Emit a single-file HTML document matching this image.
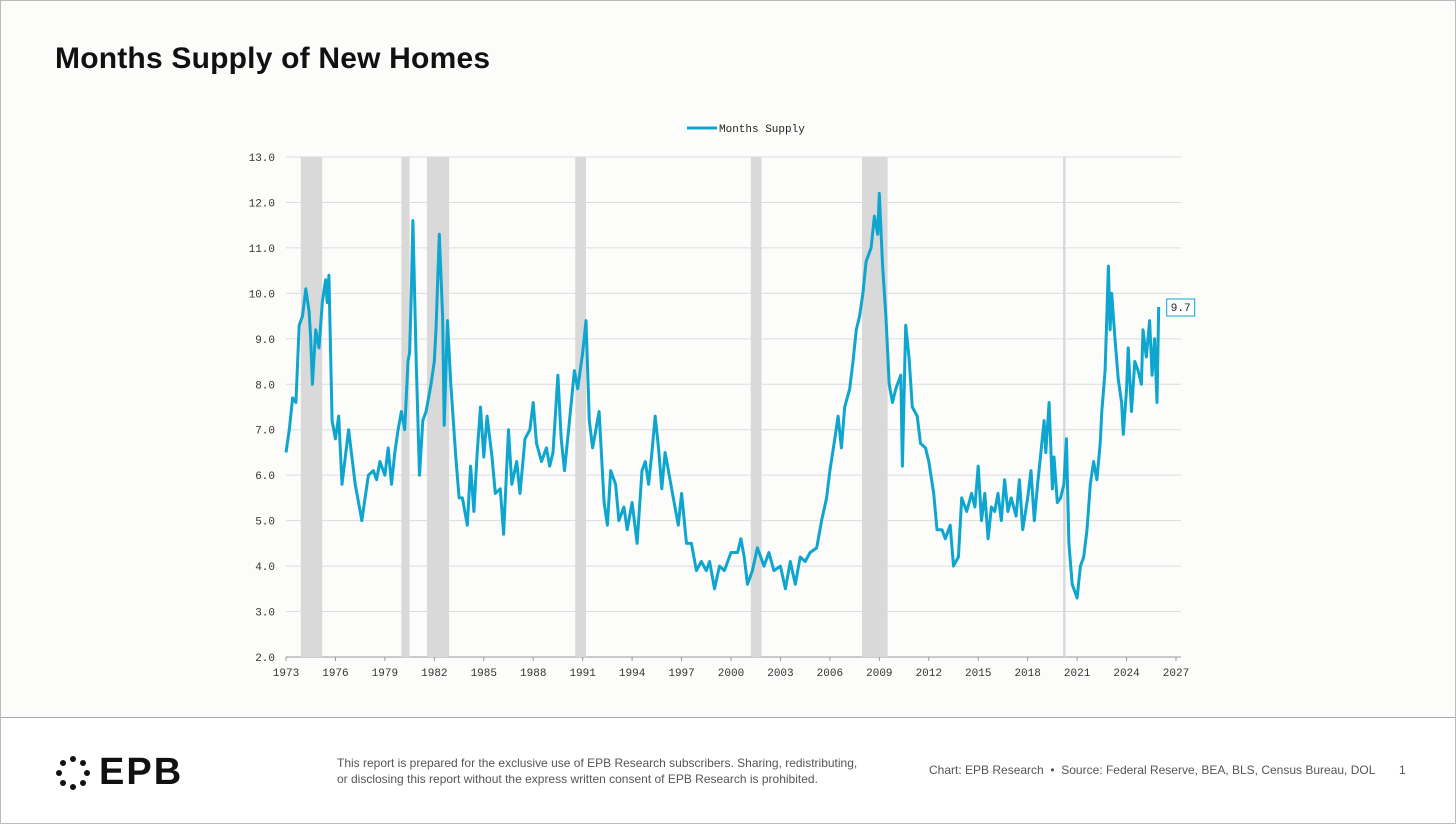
<!DOCTYPE html>
<html><head><meta charset="utf-8"><style>
body{margin:0;background:#fff;}
#page{position:relative;width:1454px;height:822px;border:1px solid #bbb;background:#fcfcfb;font-family:"Liberation Sans",sans-serif;overflow:hidden}
#title{position:absolute;left:54px;top:41px;font-size:30px;font-weight:bold;color:#111;letter-spacing:0.2px}
#footer{position:absolute;left:0;top:716px;width:1454px;height:106px;background:#fff;border-top:1px solid #aaa}
.ft{position:absolute;font-size:12px;color:#555;line-height:16px}
</style></head><body>
<div id="page">
<div id="title">Months Supply of New Homes</div>
<svg id="chart" width="1454" height="700" style="position:absolute;left:0;top:0"></svg>
<div id="footer"></div>
<div style="position:absolute;left:54px;top:750px;display:flex;align-items:center">
<svg width="36" height="36" viewBox="-18 -18 36 36"><g fill="#111">
<circle cx="0" cy="-14" r="3"/><circle cx="10" cy="-10" r="3"/><circle cx="14" cy="0" r="3"/><circle cx="10" cy="10" r="3"/><circle cx="0" cy="14" r="3"/><circle cx="-10" cy="10" r="3"/><circle cx="-14" cy="0" r="3"/><circle cx="-10" cy="-10" r="3"/></g></svg>
<span style="font-size:38px;font-weight:bold;margin-left:8px;color:#111;letter-spacing:2px">EPB</span></div>
<div class="ft" style="left:336px;top:754px;width:530px">This report is prepared for the exclusive use of EPB Research subscribers. Sharing, redistributing, or disclosing this report without the express written consent of EPB Research is prohibited.</div>
<div class="ft" style="left:928px;top:761px">Chart: EPB Research &nbsp;•&nbsp; Source: Federal Reserve, BEA, BLS, Census Bureau, DOL</div>
<div class="ft" style="left:1398px;top:761px">1</div>
</div>
<script>
const dates=[1973.0,1973.2,1973.4,1973.6,1973.8,1974.0,1974.2,1974.4,1974.5,1974.6,1974.8,1975.0,1975.2,1975.4,1975.5,1975.6,1975.8,1976.0,1976.2,1976.4,1976.6,1976.8,1977.0,1977.2,1977.5,1977.6,1977.8,1978.0,1978.3,1978.5,1978.7,1979.0,1979.2,1979.4,1979.6,1979.8,1980.0,1980.2,1980.4,1980.5,1980.6,1980.7,1980.9,1981.1,1981.3,1981.5,1981.8,1982.0,1982.1,1982.3,1982.5,1982.6,1982.8,1983.0,1983.3,1983.5,1983.7,1984.0,1984.2,1984.4,1984.6,1984.8,1985.0,1985.2,1985.5,1985.7,1986.0,1986.2,1986.5,1986.7,1987.0,1987.2,1987.5,1987.8,1988.0,1988.2,1988.5,1988.8,1989.0,1989.2,1989.5,1989.7,1989.9,1990.2,1990.5,1990.7,1991.0,1991.2,1991.4,1991.6,1991.8,1992.0,1992.3,1992.5,1992.7,1993.0,1993.2,1993.5,1993.7,1994.0,1994.3,1994.6,1994.8,1995.0,1995.2,1995.4,1995.6,1995.8,1996.0,1996.2,1996.5,1996.8,1997.0,1997.3,1997.6,1997.9,1998.2,1998.5,1998.7,1999.0,1999.3,1999.6,2000.0,2000.4,2000.6,2000.8,2001.0,2001.3,2001.6,2002.0,2002.3,2002.6,2003.0,2003.3,2003.6,2003.9,2004.2,2004.5,2004.8,2005.2,2005.5,2005.8,2006.0,2006.3,2006.5,2006.7,2006.9,2007.2,2007.4,2007.6,2007.8,2008.0,2008.2,2008.5,2008.7,2008.9,2009.0,2009.2,2009.4,2009.6,2009.8,2010.0,2010.3,2010.4,2010.6,2010.8,2011.0,2011.3,2011.5,2011.8,2012.0,2012.3,2012.5,2012.8,2013.0,2013.3,2013.5,2013.8,2014.0,2014.3,2014.6,2014.8,2015.0,2015.2,2015.4,2015.6,2015.8,2016.0,2016.2,2016.4,2016.6,2016.8,2017.0,2017.3,2017.5,2017.7,2018.0,2018.2,2018.4,2018.6,2018.8,2019.0,2019.1,2019.3,2019.5,2019.6,2019.8,2020.0,2020.2,2020.35,2020.5,2020.7,2020.9,2021.0,2021.2,2021.4,2021.6,2021.8,2022.0,2022.2,2022.4,2022.5,2022.7,2022.9,2023.0,2023.1,2023.3,2023.5,2023.7,2023.8,2024.0,2024.1,2024.3,2024.5,2024.7,2024.9,2025.0,2025.2,2025.4,2025.55,2025.7,2025.85,2025.95];
const supply=[6.5,7.0,7.7,7.6,9.3,9.5,10.1,9.6,9.0,8.0,9.2,8.8,9.8,10.3,9.8,10.4,7.2,6.8,7.3,5.8,6.4,7.0,6.4,5.8,5.2,5.0,5.5,6.0,6.1,5.9,6.3,6.0,6.6,5.8,6.5,7.0,7.4,7.0,8.5,8.7,10.0,11.6,8.5,6.0,7.2,7.4,8.0,8.5,9.2,11.3,9.5,7.1,9.4,8.0,6.4,5.5,5.5,4.9,6.2,5.2,6.5,7.5,6.4,7.3,6.4,5.6,5.7,4.7,7.0,5.8,6.3,5.6,6.8,7.0,7.6,6.7,6.3,6.6,6.2,6.5,8.2,6.8,6.1,7.2,8.3,7.9,8.7,9.4,7.2,6.6,7.0,7.4,5.4,4.9,6.1,5.8,5.0,5.3,4.8,5.4,4.5,6.1,6.3,5.8,6.5,7.3,6.6,5.7,6.5,6.1,5.5,4.9,5.6,4.5,4.5,3.9,4.1,3.9,4.1,3.5,4.0,3.9,4.3,4.3,4.6,4.2,3.6,3.9,4.4,4.0,4.3,3.9,4.0,3.5,4.1,3.6,4.2,4.1,4.3,4.4,5.0,5.5,6.1,6.8,7.3,6.6,7.5,7.9,8.5,9.2,9.5,10.0,10.7,11.0,11.7,11.3,12.2,10.6,9.5,8.0,7.6,7.9,8.2,6.2,9.3,8.6,7.5,7.3,6.7,6.6,6.3,5.6,4.8,4.8,4.6,4.9,4.0,4.2,5.5,5.2,5.6,5.3,6.2,5.0,5.6,4.6,5.3,5.2,5.6,5.0,5.9,5.2,5.5,5.1,5.9,4.8,5.5,6.1,5.0,5.8,6.5,7.2,6.5,7.6,5.7,6.4,5.4,5.5,5.8,6.8,4.5,3.6,3.4,3.3,4.0,4.2,4.8,5.8,6.3,5.9,6.7,7.4,8.3,10.6,9.2,10.0,9.0,8.1,7.6,6.9,7.9,8.8,7.4,8.5,8.3,8.0,9.2,8.6,9.4,8.2,9.0,7.6,9.7];
const recStart=[1973.9,1980.0,1981.55,1990.55,2001.2,2007.95,2020.15];
const recEnd=[1975.2,1980.5,1982.9,1991.2,2001.85,2009.5,2020.3];
const yTicks=[2,3,4,5,6,7,8,9,10,11,12,13];
const xTicks=[1973,1976,1979,1982,1985,1988,1991,1994,1997,2000,2003,2006,2009,2012,2015,2018,2021,2024,2027];
const NS="http://www.w3.org/2000/svg";
const svg=document.getElementById('chart');
const X0=285,X1=1175,Y0=656,Y1=156;
const xs=d=>X0+(d-1973)/(2027-1973)*(X1-X0);
const ys=v=>Y0-(v-2)/(13-2)*(Y0-Y1);
function mk(t,a){const e=document.createElementNS(NS,t);for(const k in a)e.setAttribute(k,a[k]);svg.appendChild(e);return e;}
const mono='"Liberation Mono",monospace';
yTicks.forEach(v=>{
 const l=mk('line',{x1:X0,x2:1180,y1:ys(v),y2:ys(v),stroke:v===2?'#999':'#dcdcdc','stroke-width':1});
 
 
 const t=mk('text',{x:274,y:ys(v)+4,'text-anchor':'end','font-size':11,'font-family':mono,fill:'#333'});
 t.textContent=v.toFixed(1);
 
 
});
recStart.forEach((s,i)=>{
 const r=mk('rect',{x:xs(s),y:Y1,width:Math.max(2,xs(recEnd[i])-xs(s)),height:Y0-Y1,fill:'#d9d9d9'});
 
 
});
xTicks.forEach(d=>{
 mk('line',{x1:xs(d),x2:xs(d),y1:Y0,y2:Y0+4,stroke:'#999'});
 const t=mk('text',{x:xs(d),y:Y0+19,'text-anchor':'middle','font-size':11,'font-family':mono,fill:'#333'});
 t.textContent=d;
 
 
});
const p=mk('path',{d:dates.map((d,i)=>(i?'L':'M')+xs(d).toFixed(1)+','+ys(supply[i]).toFixed(1)).join(''),fill:'none',stroke:'#0ea5cf','stroke-width':3,'stroke-linejoin':'round'});


const lx=xs(dates[dates.length-1]),ly=ys(supply[supply.length-1]);
const lb=mk('rect',{x:lx+8,y:ly-8,width:28,height:17,fill:'#fff',stroke:'#0ea5cf','stroke-width':1});


const lt=mk('text',{x:lx+22,y:ly+4,'text-anchor':'middle','font-size':11,'font-family':mono,fill:'#222'});
lt.textContent=supply[supply.length-1].toFixed(1);


const ll=mk('line',{x1:686,x2:716,y1:127,y2:127,stroke:'#0ea5cf','stroke-width':3});


const lg=mk('text',{x:718,y:131,'font-size':11,'font-family':mono,fill:'#222'});
lg.textContent='Months Supply';


</script>
</body></html>
